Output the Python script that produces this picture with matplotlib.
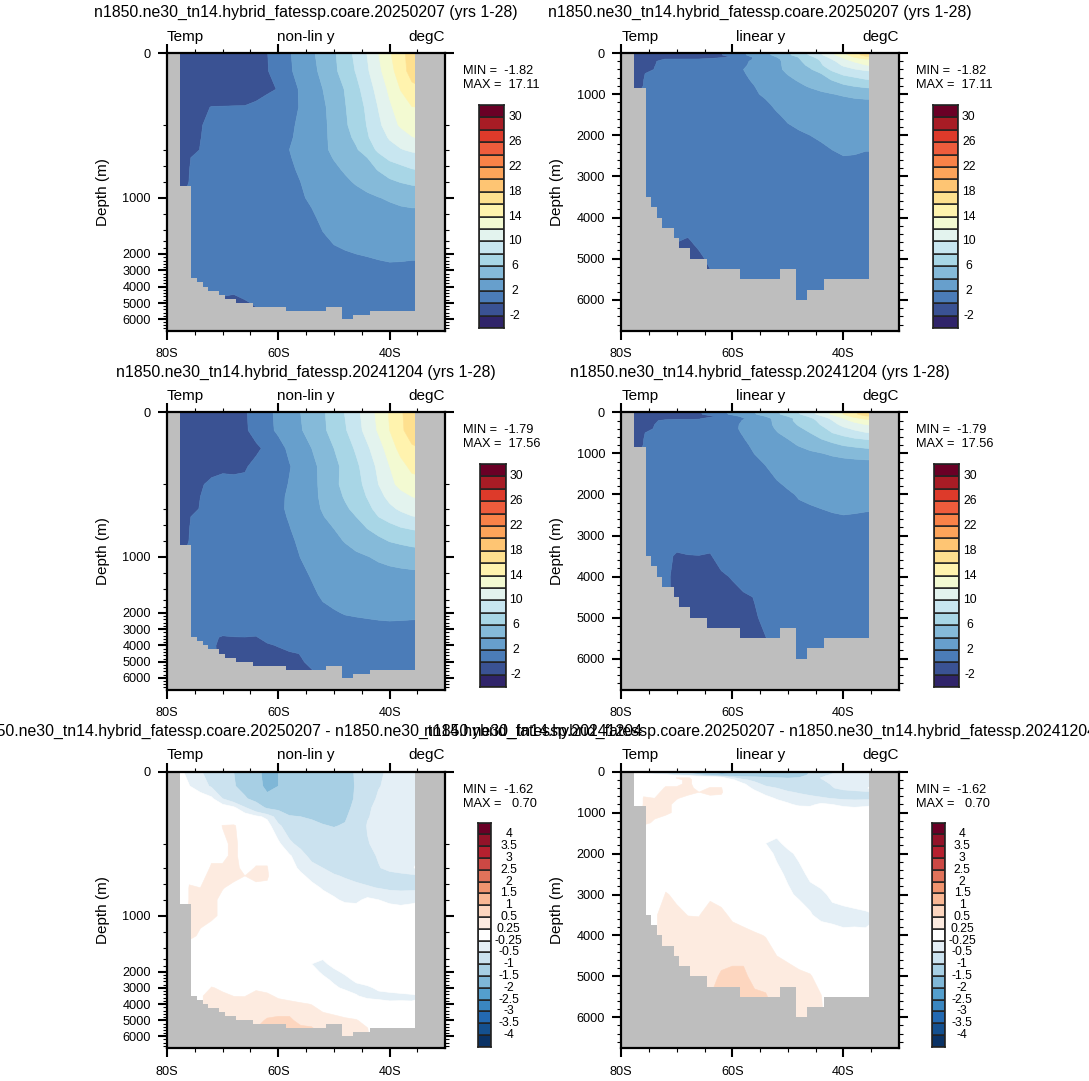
import numpy as np
import matplotlib
matplotlib.use("Agg")
import matplotlib.pyplot as plt
from matplotlib.ticker import FixedLocator, FixedFormatter, NullFormatter

plt.rcParams['font.family'] = ['Liberation Sans', 'DejaVu Sans']

W, H = 1089, 1081
GREY = '#bebebe'

# --- Zonal mean sections ---
lats = [-78, -76, -74, -72, -70, -68, -66, -64, -62, -60, -58, -56,
        -54, -52, -50, -48, -46, -44, -42, -40, -38, -36, -35]

temp_depths = [0, 50, 100, 150, 200, 300, 400, 500, 650, 800, 1000, 1250,
               1500, 2000, 2500, 3000, 3500, 4000, 4500, 5000, 5500, 6000, 6750]

temp_coare = [
    [-1.82, -1.8, -1.7, -1.6, -1.5, -1.3, -1.0, -0.6, -0.05, 0.9, 1.85, 2.75, 3.7, 4.7, 5.75, 7.05, 8.55, 10.1, 12.0, 13.8, 15.3, 17.0, 17.11],
    [-1.7, -1.7, -1.6, -1.5, -1.4, -1.2, -0.9, -0.5, -0.1, 0.75, 1.75, 2.65, 3.5, 4.45, 5.6, 6.85, 8.15, 9.75, 11.5, 13.3, 15.0, 16.9, 17.0],
    [-1.5, -1.5, -1.3, -1.0, -0.8, -0.6, -0.5, -0.4, -0.2, 0.05, 1.1, 2.25, 3.1, 4.0, 5.05, 6.1, 7.45, 9.0, 10.75, 12.4, 14.1, 15.4, 15.7],
    [-1.3, -1.2, -0.3, 0.05, 0.05, 0.05, 0.05, 0.2, 0.5, 0.8, 1.3, 2.15, 3.0, 3.7, 4.7, 5.9, 7.0, 8.4, 10.1, 11.7, 13.0, 13.95, 14.0],
    [-1.2, -1.0, -0.05, 0.2, 0.3, 0.4, 0.5, 0.6, 0.9, 1.2, 1.7, 2.3, 2.9, 3.6, 4.6, 5.7, 6.9, 8.1, 9.6, 11.0, 12.3, 13.0, 13.1],
    [-1.1, -0.8, -0.03, 0.35, 0.5, 0.6, 0.7, 0.8, 1.0, 1.3, 1.85, 2.3, 2.9, 3.6, 4.5, 5.4, 6.4, 7.8, 9.1, 10.2, 10.9, 11.9, 12.1],
    [-1.0, -0.6, 0.05, 0.4, 0.6, 0.7, 0.8, 1.0, 1.2, 1.5, 2.0, 2.4, 3.0, 3.6, 4.4, 5.1, 5.8, 7.0, 8.4, 9.3, 9.9, 10.3, 10.4],
    [-0.9, -0.05, 0.3, 0.5, 0.7, 0.8, 0.9, 1.1, 1.3, 1.6, 1.9, 2.4, 2.9, 3.4, 4.1, 4.7, 5.3, 6.0, 7.4, 8.4, 8.9, 9.3, 9.4],
    [-0.7, -0.01, 0.4, 0.6, 0.7, 0.8, 0.9, 1.1, 1.3, 1.5, 1.75, 2.2, 2.7, 3.2, 3.65, 4.2, 4.8, 5.4, 6.1, 6.9, 7.4, 7.9, 8.0],
    [-0.6, 0.02, 0.5, 0.7, 0.8, 0.9, 1.0, 1.1, 1.3, 1.5, 1.7, 2.0, 2.4, 2.8, 3.2, 3.7, 4.2, 4.7, 5.2, 5.7, 6.1, 6.4, 6.5],
    [-0.5, 0.5, 0.6, 0.7, 0.8, 0.9, 1.0, 1.1, 1.3, 1.4, 1.6, 1.85, 2.2, 2.5, 2.8, 3.05, 3.35, 3.65, 3.95, 4.2, 4.45, 4.6, 4.6],
    [0.5, 0.5, 0.6, 0.7, 0.8, 0.9, 1.0, 1.1, 1.2, 1.3, 1.4, 1.6, 1.8, 2.25, 2.5, 2.7, 2.85, 3.0, 3.15, 3.25, 3.35, 3.4, 3.4],
    [0.5, 0.5, 0.6, 0.7, 0.8, 0.9, 1.0, 1.1, 1.15, 1.2, 1.3, 1.4, 1.6, 1.9, 2.25, 2.45, 2.6, 2.7, 2.8, 2.85, 2.9, 2.95, 2.95],
    [0.5, 0.6, 0.7, 0.8, 0.9, 1.0, 1.0, 1.1, 1.1, 1.2, 1.2, 1.3, 1.4, 1.5, 1.65, 1.85, 2.0, 2.15, 2.25, 2.3, 2.35, 2.35, 2.35],
    [0.5, 0.6, 0.7, 0.8, 0.9, 1.0, 1.0, 1.0, 1.1, 1.1, 1.2, 1.2, 1.3, 1.3, 1.4, 1.5, 1.6, 1.7, 1.9, 2.0, 1.98, 1.9, 1.9],
    [0.5, 0.6, 0.7, 0.8, 0.8, 0.9, 0.9, 1.0, 1.0, 1.0, 1.1, 1.1, 1.2, 1.2, 1.3, 1.3, 1.4, 1.4, 1.5, 1.5, 1.5, 1.5, 1.5],
    [0.4, 0.5, 0.6, 0.6, 0.6, 0.7, 0.7, 0.8, 0.9, 0.9, 1.0, 1.0, 1.1, 1.1, 1.2, 1.2, 1.2, 1.3, 1.3, 1.3, 1.3, 1.3, 1.3],
    [0.3, 0.4, 0.4, 0.4, 0.4, 0.4, 0.5, 0.6, 0.7, 0.8, 0.8, 0.9, 0.9, 1.0, 1.0, 1.1, 1.1, 1.1, 1.1, 1.2, 1.2, 1.2, 1.2],
    [0.2, 0.2, 0.2, 0.2, 0.05, -0.01, 0.15, 0.4, 0.5, 0.6, 0.7, 0.8, 0.8, 0.9, 0.9, 1.0, 1.0, 1.0, 1.0, 1.0, 1.1, 1.1, 1.1],
    [0.1, 0.1, 0.1, 0.1, -0.2, -0.3, -0.1, 0.1, 0.3, 0.4, 0.5, 0.6, 0.7, 0.7, 0.8, 0.8, 0.9, 0.9, 0.9, 0.9, 0.9, 0.9, 0.9],
    [0.1, 0.1, 0.1, 0.1, -0.2, -0.3, -0.2, -0.1, 0.2, 0.3, 0.4, 0.5, 0.6, 0.6, 0.7, 0.7, 0.8, 0.8, 0.8, 0.8, 0.8, 0.8, 0.8],
    [0.1, 0.1, 0.1, 0.1, -0.2, -0.3, -0.2, -0.1, 0.2, 0.3, 0.4, 0.5, 0.5, 0.5, 0.6, 0.7, 0.7, 0.7, 0.7, 0.7, 0.7, 0.7, 0.7],
    [0.1, 0.1, 0.1, 0.1, -0.2, -0.3, -0.2, -0.1, 0.2, 0.3, 0.4, 0.5, 0.5, 0.5, 0.6, 0.7, 0.7, 0.7, 0.7, 0.7, 0.7, 0.7, 0.7],
]

temp_ctrl = [
    [-1.79, -1.78, -1.7, -1.6, -1.4, -1.0, -0.2, 0.7, 1.55, 2.4, 3.2, 4.0, 4.9, 5.75, 6.85, 8.1, 9.45, 11.0, 12.5, 14.2, 15.7, 17.3, 17.56],
    [-1.7, -1.7, -1.6, -1.5, -1.3, -0.9, -0.25, 0.6, 1.5, 2.3, 3.1, 3.85, 4.7, 5.65, 6.7, 7.8, 9.2, 10.7, 12.25, 14.0, 15.6, 17.0, 17.1],
    [-1.5, -1.5, -1.3, -1.1, -0.9, -0.7, -0.5, -0.3, 0.35, 1.35, 2.35, 3.15, 4.0, 5.0, 6.0, 7.0, 8.3, 9.7, 11.2, 12.9, 14.7, 15.7, 15.9],
    [-1.3, -1.2, -0.9, -0.5, -0.2, -0.25, -0.15, 0.4, 0.9, 1.4, 1.9, 2.7, 3.5, 4.5, 5.4, 6.6, 7.6, 9.0, 10.4, 12.0, 13.3, 14.5, 14.6],
    [-1.2, -1.0, -0.15, 0.3, 0.3, 0.3, 0.3, 0.6, 1.0, 1.4, 2.1, 2.7, 3.4, 4.5, 5.5, 6.6, 7.4, 8.5, 10.0, 11.4, 12.6, 13.2, 13.3],
    [-1.1, -0.8, 0.0, 0.4, 0.5, 0.6, 0.7, 1.0, 1.4, 1.7, 2.2, 2.7, 3.4, 4.4, 5.2, 6.2, 7.1, 8.1, 9.4, 10.5, 11.3, 12.0, 12.2],
    [-1.0, -0.6, 0.1, 0.4, 0.6, 0.7, 0.85, 1.1, 1.4, 1.75, 2.2, 2.9, 3.4, 4.15, 4.9, 5.7, 6.5, 7.5, 8.6, 9.6, 10.3, 10.85, 11.0],
    [-0.9, -0.05, 0.3, 0.5, 0.7, 0.8, 0.9, 1.1, 1.4, 1.7, 2.1, 2.6, 3.2, 3.9, 4.6, 5.3, 6.0, 7.0, 8.0, 8.8, 9.4, 9.9, 10.0],
    [-0.7, -0.01, 0.4, 0.6, 0.7, 0.8, 0.9, 1.1, 1.35, 1.6, 1.95, 2.4, 2.95, 3.45, 4.0, 4.6, 5.3, 6.0, 6.7, 7.2, 7.8, 8.1, 8.2],
    [-0.6, 0.02, 0.5, 0.7, 0.8, 0.9, 1.0, 1.1, 1.3, 1.5, 1.8, 2.2, 2.7, 3.1, 3.6, 4.1, 4.6, 5.05, 5.55, 6.1, 6.4, 6.7, 6.8],
    [-0.5, 0.5, 0.6, 0.7, 0.8, 0.9, 1.0, 1.1, 1.3, 1.4, 1.65, 2.02, 2.4, 2.75, 3.1, 3.4, 3.7, 3.95, 4.25, 4.5, 4.7, 4.85, 4.9],
    [0.5, 0.5, 0.6, 0.7, 0.8, 0.9, 1.0, 1.1, 1.2, 1.35, 1.55, 1.75, 2.05, 2.4, 2.7, 2.9, 3.05, 3.2, 3.3, 3.4, 3.45, 3.5, 3.5],
    [0.4, 0.5, 0.6, 0.7, 0.8, 0.9, 1.0, 1.0, 1.1, 1.2, 1.35, 1.55, 1.8, 2.15, 2.45, 2.6, 2.7, 2.8, 2.9, 2.95, 3.0, 3.0, 3.0],
    [0.4, 0.5, 0.6, 0.7, 0.8, 0.9, 0.9, 1.0, 1.0, 1.1, 1.2, 1.3, 1.45, 1.65, 1.85, 2.1, 2.25, 2.35, 2.4, 2.45, 2.45, 2.4, 2.4],
    [0.4, 0.5, 0.6, 0.7, 0.7, 0.8, 0.8, 0.8, 0.9, 1.0, 1.1, 1.2, 1.3, 1.4, 1.6, 1.7, 1.75, 1.85, 1.95, 2.0, 1.97, 1.93, 1.92],
    [0.4, 0.5, 0.6, 0.5, 0.35, 0.3, 0.3, 0.3, 0.5, 0.7, 0.9, 1.0, 1.1, 1.2, 1.3, 1.4, 1.4, 1.5, 1.5, 1.5, 1.5, 1.5, 1.5],
    [0.3, 0.4, 0.4, 0.15, -0.08, -0.02, -0.01, -0.05, 0.25, 0.45, 0.6, 0.75, 0.85, 0.95, 1.0, 1.1, 1.2, 1.25, 1.3, 1.3, 1.3, 1.3, 1.3],
    [0.3, 0.3, 0.3, 0.2, -0.3, -0.3, -0.3, -0.3, -0.1, 0.05, 0.3, 0.5, 0.6, 0.75, 0.85, 0.95, 1.0, 1.05, 1.1, 1.1, 1.1, 1.1, 1.1],
    [0.2, 0.2, 0.2, 0.3, -0.4, -0.4, -0.4, -0.4, -0.3, -0.2, -0.1, 0.02, 0.3, 0.5, 0.65, 0.8, 0.9, 0.95, 1.0, 1.0, 1.0, 1.0, 1.0],
    [0.2, 0.2, 0.2, 0.3, -0.4, -0.4, -0.4, -0.4, -0.35, -0.3, -0.2, -0.05, 0.1, 0.35, 0.5, 0.65, 0.8, 0.85, 0.9, 0.9, 0.9, 0.9, 0.9],
    [0.2, 0.2, 0.2, 0.3, -0.4, -0.4, -0.4, -0.4, -0.35, -0.35, -0.3, -0.25, -0.01, 0.15, 0.4, 0.55, 0.7, 0.75, 0.8, 0.8, 0.8, 0.8, 0.8],
    [0.2, 0.2, 0.2, 0.3, -0.4, -0.4, -0.4, -0.4, -0.35, -0.35, -0.3, -0.25, -0.01, 0.15, 0.4, 0.55, 0.7, 0.75, 0.8, 0.8, 0.8, 0.8, 0.8],
    [0.2, 0.2, 0.2, 0.3, -0.4, -0.4, -0.4, -0.4, -0.35, -0.35, -0.3, -0.25, -0.01, 0.15, 0.4, 0.55, 0.7, 0.75, 0.8, 0.8, 0.8, 0.8, 0.8],
]

diff_depths = [0, 40, 75, 100, 125, 150, 200, 300, 400, 500, 650, 800, 1000, 1250,
               1500, 1750, 2000, 2500, 3000, 3500, 4000, 4500, 5000, 5500, 6000, 6750]

temp_diff = [
    [-0.15, -0.35, -0.48, -0.6, -0.8, -1.0, -1.2, -1.4, -1.62, -1.5, -1.4, -1.35, -1.3, -1.25, -1.2, -1.1, -0.97, -0.8, -0.55, -0.45, -0.4, -0.35, -0.3],
    [-0.1, -0.24, -0.4, -0.53, -0.7, -0.97, -1.15, -1.35, -1.6, -1.5, -1.4, -1.35, -1.3, -1.25, -1.2, -1.1, -0.98, -0.75, -0.52, -0.42, -0.38, -0.33, -0.3],
    [0, -0.05, -0.1, -0.2, -0.5, -0.7, -0.95, -1.15, -1.4, -1.4, -1.35, -1.3, -1.28, -1.25, -1.2, -1.15, -0.95, -0.65, -0.45, -0.4, -0.35, -0.3, -0.3],
    [0, 0, -0.02, -0.05, -0.1, -0.2, -0.47, -0.75, -1.07, -1.15, -1.2, -1.25, -1.25, -1.2, -1.15, -1.1, -0.9, -0.55, -0.42, -0.38, -0.35, -0.3, -0.3],
    [0, 0, 0, 0, -0.02, -0.05, -0.1, -0.2, -0.3, -0.65, -0.97, -1.0, -1.05, -1.1, -1.1, -1.05, -0.8, -0.52, -0.42, -0.38, -0.33, -0.3, -0.3],
    [0, 0, 0, 0.1, 0.26, 0.28, 0.1, 0, -0.15, -0.45, -0.65, -0.8, -0.9, -0.98, -1.02, -0.97, -0.75, -0.48, -0.42, -0.38, -0.33, -0.3, -0.3],
    [0, 0, 0, 0.1, 0.2, 0.3, 0.15, 0.05, 0, -0.2, -0.45, -0.58, -0.68, -0.75, -0.8, -0.8, -0.7, -0.52, -0.42, -0.4, -0.38, -0.42, -0.52],
    [0, 0, 0, 0.2, 0.2, 0.3, 0.15, 0.2, 0.2, 0.05, -0.22, -0.4, -0.58, -0.65, -0.7, -0.72, -0.68, -0.6, -0.47, -0.4, -0.35, -0.3, -0.28],
    [0, 0.1, 0.1, 0.28, 0.28, 0.3, 0.2, 0.26, 0.26, 0.05, -0.1, -0.32, -0.42, -0.5, -0.6, -0.65, -0.63, -0.6, -0.52, -0.42, -0.35, -0.28, -0.2],
    [0, 0.22, 0.2, 0.3, 0.3, 0.3, 0.25, 0.3, 0.28, 0.05, 0, -0.18, -0.35, -0.42, -0.47, -0.53, -0.58, -0.62, -0.62, -0.6, -0.58, -0.55, -0.55],
    [0, 0.26, 0.25, 0.3, 0.26, 0.2, 0.1, 0.2, 0.2, 0.05, 0, -0.05, -0.15, -0.28, -0.33, -0.38, -0.43, -0.47, -0.51, -0.55, -0.56, -0.56, -0.56],
    [0, 0.26, 0.3, 0.3, 0.2, 0.1, 0.05, 0.03, 0.02, 0, 0, 0, -0.05, -0.12, -0.22, -0.29, -0.3, -0.2, -0.25, -0.3, -0.33, -0.3, -0.28],
    [0, 0.3, 0.3, 0.3, 0.2, 0.05, 0, 0, 0, 0, 0, 0, 0, -0.03, -0.05, -0.07, -0.08, -0.08, -0.1, -0.1, -0.1, -0.1, -0.1],
    [0, 0.3, 0.22, 0.1, 0.05, 0, 0, 0, 0, 0, 0, 0, 0, 0, 0, 0, 0, 0, 0, 0, 0, 0, 0],
    [0, 0.05, 0.02, 0, 0, 0, 0, 0, 0, 0, 0, 0, -0.05, -0.2, -0.1, -0.02, 0, 0, 0, 0, 0, 0, 0],
    [0, 0, 0, 0, 0, 0, 0, 0, 0, 0, 0, 0, -0.25, -0.3, -0.18, -0.08, 0, 0, 0, 0, 0, 0, 0],
    [0, 0, 0, 0, 0, 0, 0, 0, 0, 0, 0, 0, -0.15, -0.3, -0.3, -0.2, -0.1, -0.05, 0, 0, 0, 0, 0],
    [0, 0, 0, 0.1, 0.05, 0, 0, 0, 0, 0, 0, 0, 0, -0.18, -0.3, -0.32, -0.2, -0.12, -0.1, -0.05, -0.02, 0, 0],
    [0, 0, 0, 0.27, 0.2, 0.1, 0.05, 0.2, 0.15, 0.05, 0, 0, 0, 0, -0.2, -0.3, -0.33, -0.3, -0.2, -0.15, -0.1, -0.05, -0.05],
    [0, 0, 0.2, 0.4, 0.3, 0.245, 0.24, 0.35, 0.31, 0.2, 0.15, 0.1, 0.05, 0, 0, -0.1, -0.23, -0.32, -0.33, -0.33, -0.32, -0.3, -0.27],
    [0, 0, 0.2, 0.4, 0.35, 0.35, 0.35, 0.4, 0.4, 0.35, 0.32, 0.28, 0.24, 0.15, 0.1, 0.05, 0, -0.1, -0.15, -0.2, -0.2, -0.22, -0.22],
    [0, 0, 0.2, 0.4, 0.4, 0.42, 0.42, 0.42, 0.45, 0.45, 0.45, 0.4, 0.34, 0.25, 0.2, 0.15, 0.1, 0, 0, 0, 0, 0, 0],
    [0, 0, 0.2, 0.4, 0.4, 0.42, 0.45, 0.45, 0.52, 0.55, 0.55, 0.42, 0.42, 0.4, 0.35, 0.3, 0.27, 0.15, 0, 0, 0, 0, 0],
    [0, 0, 0.2, 0.4, 0.4, 0.42, 0.45, 0.5, 0.6, 0.6, 0.7, 0.55, 0.52, 0.4, 0.35, 0.38, 0.32, 0.26, 0, 0, 0, 0, 0],
    [0, 0, 0.2, 0.4, 0.4, 0.4, 0.4, 0.4, 0.4, 0.4, 0.4, 0.4, 0.4, 0.4, 0.35, 0.35, 0.3, 0.3, 0, 0, 0, 0, 0],
    [0, 0, 0.2, 0.4, 0.4, 0.4, 0.4, 0.4, 0.4, 0.4, 0.4, 0.4, 0.4, 0.4, 0.35, 0.35, 0.3, 0.3, 0, 0, 0, 0, 0],
]

# Ocean floor: depth of the deepest wet cell from each latitude edge to the next
floor_edges = [-80, -77.66, -75.6, -74.65, -73.6, -72.6, -70.6, -69.6, -67.6, -64.6,
               -58.6, -51.5, -48.5, -46.5, -43.5, -35.45, -30]
floor_depth = [0, 850, 3500, 3750, 4000, 4250, 4500, 4750, 5000, 5250,
               5500, 5250, 6000, 5750, 5500, 0, 0]

# --- Contour levels and colours ---
temp_levels = [-2, 0, 2, 4, 6, 8, 10, 12, 14, 16, 18, 20, 22, 24, 26, 28, 30]
temp_colors = ['#30246a', '#3a5293', '#4b7cb8', '#679fcc', '#85bad9', '#a8d6e6',
               '#c8e6f0', '#e3f3ee', '#f3fad2', '#fff3ae', '#fee08f', '#fec573',
               '#fda45a', '#f98248', '#ee5c3c', '#dd3a2a', '#a81c25', '#6a0026']
temp_labels = ['-2', '', '2', '', '6', '', '10', '', '14', '', '18', '', '22', '', '26', '', '30']

diff_levels = [-4, -3.5, -3, -2.5, -2, -1.5, -1, -0.5, -0.25, 0.25, 0.5, 1, 1.5, 2, 2.5, 3, 3.5, 4]
diff_colors = ['#0a3265', '#14508f', '#2369b1', '#3a86bf', '#549fcd', '#7fb7d7', '#a7cfe4',
               '#cbe2ef', '#e4eff6', '#ffffff', '#fdebe0', '#fdd6bf', '#f9b794', '#f0946f',
               '#e0725a', '#cc4844', '#b5202f', '#931329', '#6a0026']
diff_labels = ['-4', '-3.5', '-3', '-2.5', '-2', '-1.5', '-1', '-0.5', '-0.25',
               '0.25', '0.5', '1', '1.5', '2', '2.5', '3', '3.5', '4']

# --- Stretched depth axis: depth (m) to pixels below the top of the panel ---
knot_depth = [0, 200, 400, 600, 800, 1000, 1200, 1400, 1600, 1800, 2000, 3000, 4000, 5000, 6000, 6750]
knot_pixel = [0, 72.3, 96.7, 112.7, 128.7, 144.7, 161, 177, 188, 195, 201, 217.3, 233.5, 250, 266, 277.7]


def depth_to_pixel(d):
    return np.interp(d, knot_depth, knot_pixel)


def pixel_to_depth(p):
    return np.interp(p, knot_pixel, knot_depth)


TITLE_COARE = "n1850.ne30_tn14.hybrid_fatessp.coare.20250207 (yrs 1-28)"
TITLE_CTRL = "n1850.ne30_tn14.hybrid_fatessp.20241204 (yrs 1-28)"
TITLE_DIFF = "n1850.ne30_tn14.hybrid_fatessp.coare.20250207 - n1850.ne30_tn14.hybrid_fatessp.20241204"

fig = plt.figure(figsize=(W / 100, H / 100), dpi=100)


def add_axes_px(x0, y0, x1, y1):
    return fig.add_axes([x0 / W, 1 - y1 / H, (x1 - x0) / W, (y1 - y0) / H])


def draw_section(box, title, field, depths, levels, colors, nonlin):
    ax = add_axes_px(*box)
    ax.set_facecolor('white')
    cs = ax.contourf(lats, depths, np.array(field), levels=levels, colors=colors,
                     extend='both', antialiased=True)
    cs.set_edgecolor('face')
    cs.set_linewidth(0.4)
    ax.fill_between(floor_edges, floor_depth, 6750, step='post', color=GREY, linewidth=0)

    ax.set_xlim(-80, -30)
    if nonlin:
        ax.set_yscale('function', functions=(depth_to_pixel, pixel_to_depth))
    ax.set_ylim(6750, 0)

    ax.xaxis.set_major_locator(FixedLocator([-80, -60, -40]))
    ax.xaxis.set_major_formatter(FixedFormatter(['80S', '60S', '40S']))
    ax.xaxis.set_minor_locator(FixedLocator(list(range(-75, -30, 5))))
    ax.xaxis.set_minor_formatter(NullFormatter())
    ax.yaxis.set_major_locator(FixedLocator([0, 1000, 2000, 3000, 4000, 5000, 6000]))
    ax.yaxis.set_major_formatter(FixedFormatter(['0', '1000', '2000', '3000', '4000', '5000', '6000']))
    ax.yaxis.set_minor_locator(FixedLocator(list(range(200, 6750, 200))))
    ax.yaxis.set_minor_formatter(NullFormatter())

    ax.tick_params(which='major', direction='out', length=6.2, width=1.5, top=True, right=True,
                   labelsize=9.2, pad=5.5)
    ax.tick_params(which='minor', direction='out', length=3.1, width=0.8, top=True, right=True)
    ax.tick_params(axis='x', which='major', pad=6.5)
    for sp in ax.spines.values():
        sp.set_linewidth(1.6)
        sp.set_zorder(5)

    ax.set_ylabel("Depth (m)", fontsize=11)
    ax.yaxis.set_label_coords(-0.205, 0.5)

    x0, y0, x1, y1 = box
    cx = (x0 + x1) / 2
    fig.text(cx / W, 1 - (y0 - 35.7) / H, title, ha='center', va='baseline', fontsize=11.4)
    sub = "non-lin y" if nonlin else "linear y"
    fig.text(x0 / W, 1 - (y0 - 12.3) / H, "Temp", ha='left', va='baseline', fontsize=11)
    fig.text(cx / W, 1 - (y0 - 12.3) / H, sub, ha='center', va='baseline', fontsize=11)
    fig.text(x1 / W, 1 - (y0 - 12.3) / H, "degC", ha='right', va='baseline', fontsize=11)

    # Range of the plotted field
    vals = np.array(field)
    fig.text((x1 + 17.5) / W, 1 - (y0 + 21) / H, f"MIN = {vals.min():6.2f}", va='baseline', fontsize=9.2)
    fig.text((x1 + 17.5) / W, 1 - (y0 + 35) / H, f"MAX = {vals.max():6.2f}", va='baseline', fontsize=9.2)
    return ax


def draw_colorbar(box, colors, labels, label_x):
    cax = add_axes_px(*box)
    for i, c in enumerate(colors):
        cax.barh(i, 1, height=1, left=0, color=c, edgecolor='#222222', linewidth=1.1)
    cax.set_xlim(0, 1)
    cax.set_ylim(-0.5, len(colors) - 0.5)
    cax.set_xticks([])
    cax.set_yticks([])
    for sp in cax.spines.values():
        sp.set_linewidth(1.2)
        sp.set_color('#222222')
    for i, lab in enumerate(labels):
        y_frac = (i + 1) / len(colors)
        y_px = box[3] - y_frac * (box[3] - box[1])
        fig.text(label_x / W, 1 - y_px / H, lab, ha='center', va='center', fontsize=8.7)


panels = [
    ((167, 53, 445.3, 330.7), TITLE_COARE, temp_coare, True, (479.3, 105, 504.3, 328.3), 515),
    ((621.3, 53, 899, 330.7), TITLE_COARE, temp_coare, False, (933.3, 105, 958.3, 328.3), 968.7),
    ((167, 412.3, 445.3, 689.5), TITLE_CTRL, temp_ctrl, True, (480.3, 464, 505.7, 687.3), 516),
    ((621.3, 412.3, 899, 689.5), TITLE_CTRL, temp_ctrl, False, (934, 464, 959.3, 687.3), 970),
    ((167, 771.7, 445.3, 1048), TITLE_DIFF, temp_diff, True, (477.7, 822.7, 491.3, 1046.7), 508.7),
    ((621.3, 771.7, 899, 1048), TITLE_DIFF, temp_diff, False, (931.7, 822.7, 945, 1046.7), 962.3),
]

for box, title, field, nonlin, cbar_box, label_x in panels:
    if field is temp_diff:
        draw_section(box, title, field, diff_depths, diff_levels, diff_colors, nonlin)
        draw_colorbar(cbar_box, diff_colors, diff_labels, label_x)
    else:
        draw_section(box, title, field, temp_depths, temp_levels, temp_colors, nonlin)
        draw_colorbar(cbar_box, temp_colors, temp_labels, label_x)

fig.savefig("out.png", dpi=100)
